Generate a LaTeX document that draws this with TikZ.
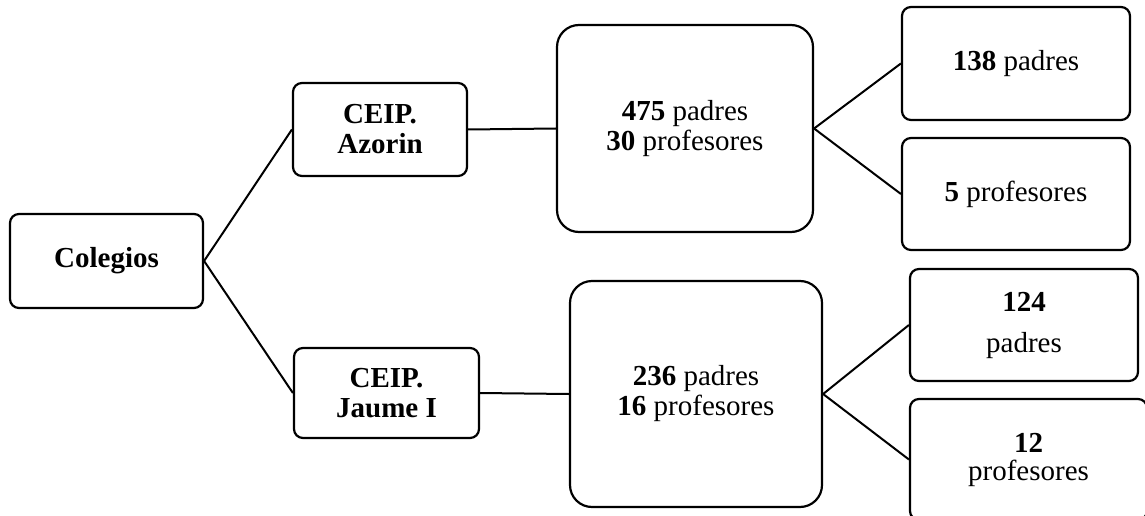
\documentclass[tikz,border=0pt]{standalone}
\usepackage{fontspec}
\setmainfont{Liberation Serif}
\usepackage{tikz}
\usetikzlibrary{calc, arrows, shapes}
\tikzset{>=latex}

\begin{document}
\begin{tikzpicture}
[x=1pt, y=-1pt, line width=2.2pt,
 box/.style={draw, rounded corners=9pt, align=center, inner sep=0pt, font=\fontsize{29}{30}\selectfont},
 big/.style={box, rounded corners=22pt}]
\useasboundingbox (0,0) rectangle (1145,516);
\node[box, minimum width=193pt, minimum height=94pt] (col) at (106.5,261) {\textbf{Colegios}};
\node[box, minimum width=174pt, minimum height=93pt] (az) at (380,129.5) {\textbf{CEIP.}\\\textbf{Azorin}};
\node[box, minimum width=185pt, minimum height=90pt] (ja) at (386.5,393) {\textbf{CEIP.}\\\textbf{Jaume I}};
\node[big, minimum width=256pt, minimum height=207pt] (pa) at (685,128.5) {\textbf{475} padres\\\textbf{30} profesores};
\node[big, minimum width=252pt, minimum height=226pt] (pj) at (696,394) {\textbf{236} padres\\\textbf{16} profesores};
\node[box, minimum width=228pt, minimum height=113pt] (pa-1) at (1016,63.5) {\textbf{138} padres};
\node[box, minimum width=228pt, minimum height=112pt] (pa-2) at (1016,194) {\textbf{5} profesores};
\node[box, minimum width=228pt, minimum height=112pt] (pj-1) at (1024,325) {\textbf{124}\\[11pt]padres};
\node[box, minimum width=237pt, minimum height=121pt] (pj-2) at (1028.5,459.5) {\textbf{12}\\[-2pt]profesores};
\path[-, line width=2pt]
(col.east)
edge (az.west)
edge (ja.west)
(az.east) edge (pa.west)
(ja.east) edge (pj.west)
(pa.east)
edge (pa-1.west)
edge (pa-2.west)
(pj.east)
edge (pj-1.west)
edge (pj-2.west)
;
\end{tikzpicture}
\end{document}
